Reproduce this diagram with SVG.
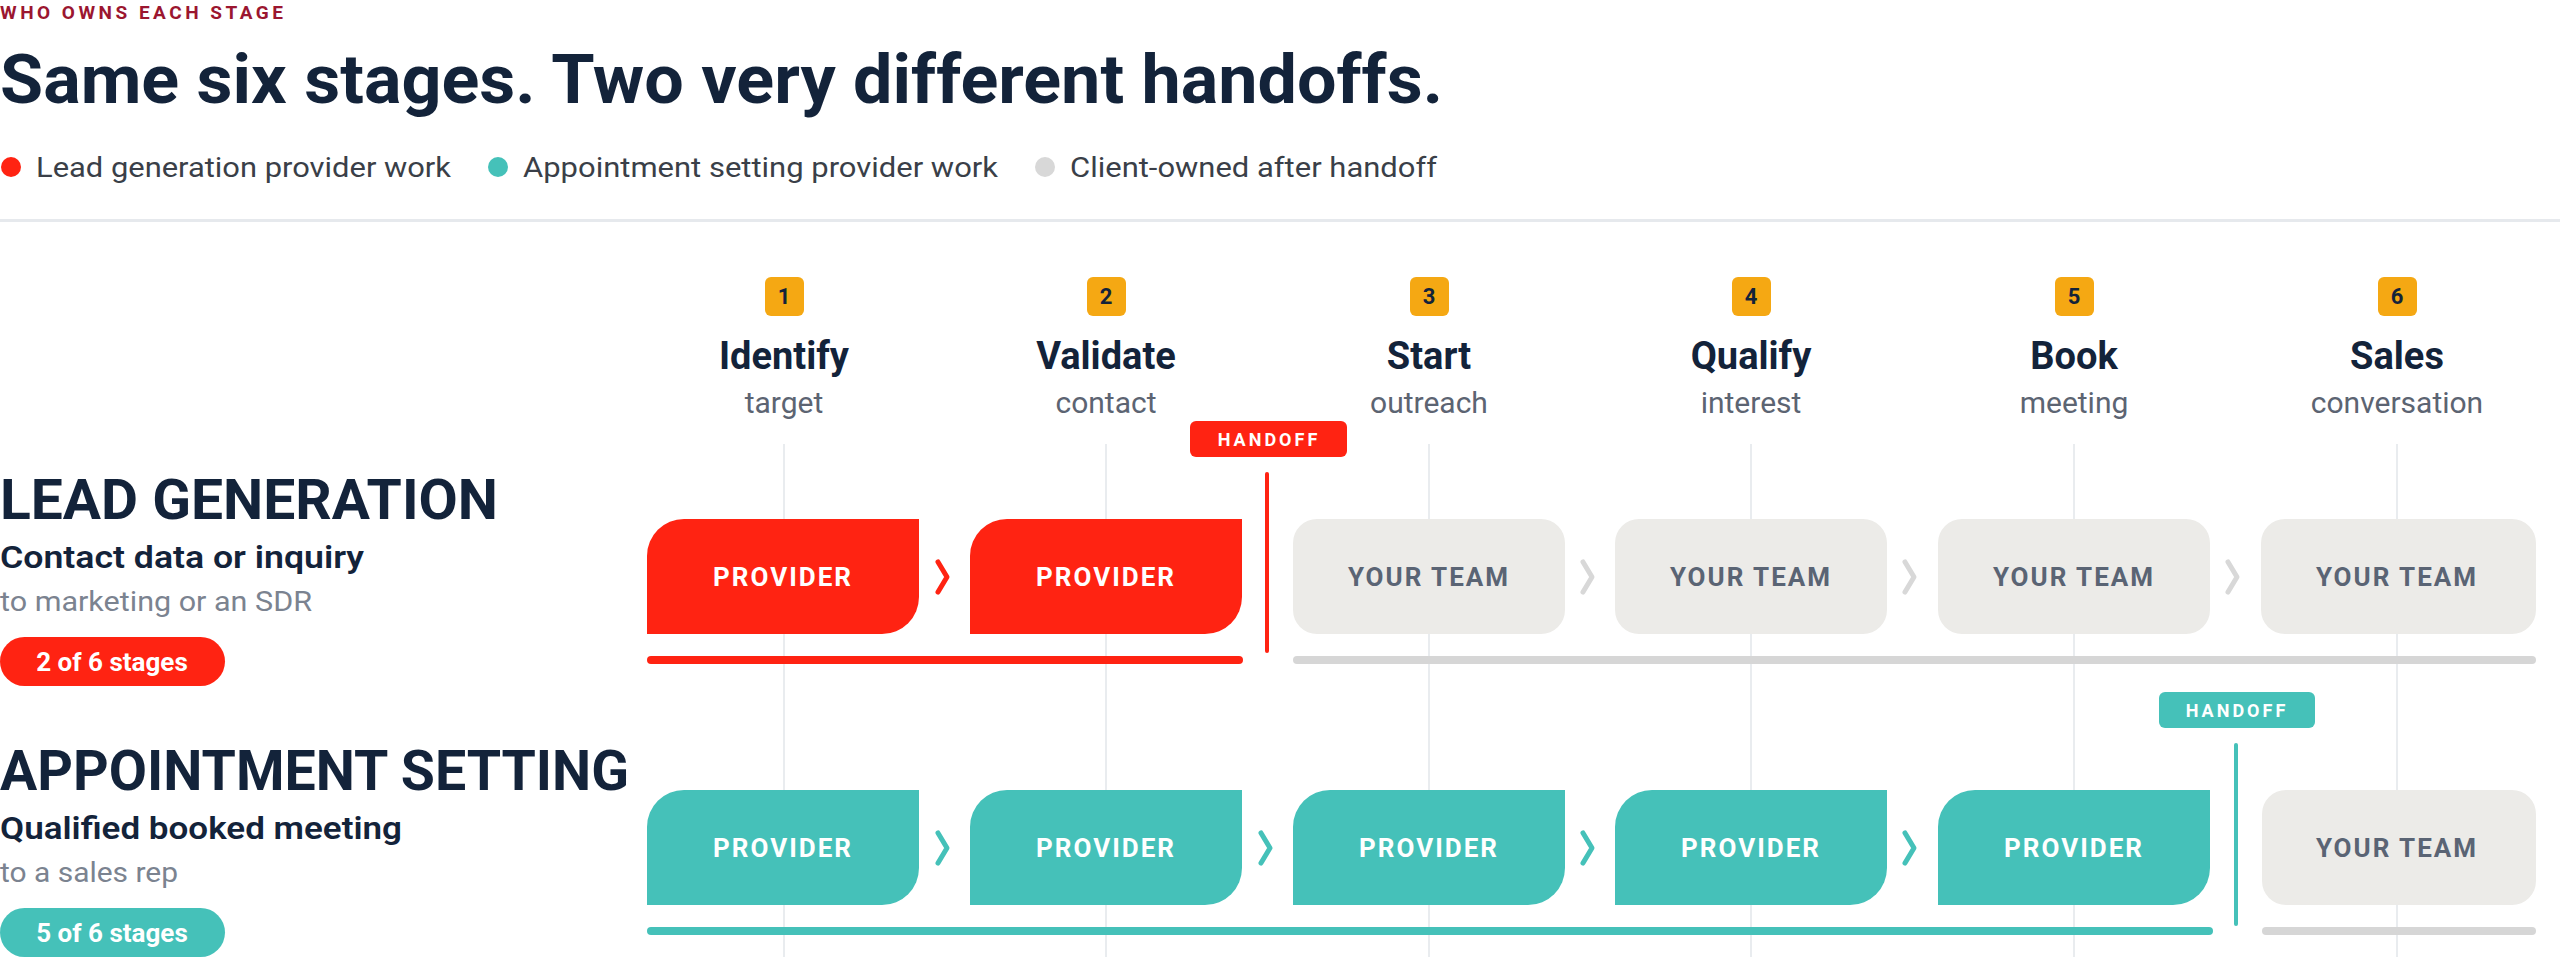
<svg xmlns="http://www.w3.org/2000/svg" width="2560" height="957" viewBox="0 0 2560 957">
<style>
text{font-family:Roboto,"Liberation Sans",sans-serif}
.navy{fill:#13233a}
.b{font-weight:700}
.st{font-size:38px;font-weight:700;fill:#13233a;text-anchor:middle}
.ss{font-size:30px;fill:#5c6472;text-anchor:middle}
.num{font-size:22px;font-weight:700;fill:#13233a;text-anchor:middle}
.badge{fill:#f5a813}
.grid{stroke:#e9ecef;stroke-width:2}
.red{fill:#ff2312}.teal{fill:#45c1b9}.gbox{fill:#ecebe8}
.bt{font-size:26px;font-weight:700;text-anchor:middle;letter-spacing:2px}
.w{fill:#fff}.gt{fill:#5a6474}
.chev{fill:none;stroke-width:5;stroke-linecap:round;stroke-linejoin:round}
.bar{stroke-width:8;stroke-linecap:round}
.ho{font-size:18px;font-weight:700;fill:#fff;text-anchor:middle;letter-spacing:3px}
.leg{font-size:28px;fill:#3a3f48}
</style>
<rect width="2560" height="957" fill="#fff"/>
<text x="0" y="19" font-size="19" class="b" fill="#9b1630" letter-spacing="3.5">WHO OWNS EACH STAGE</text>
<text x="0" y="103" font-size="68" class="b navy" textLength="1443" lengthAdjust="spacingAndGlyphs">Same six stages. Two very different handoffs.</text>
<g id="legend">
<circle cx="11" cy="167" r="10" fill="#ff2312"/><text x="36" y="177" class="leg" textLength="415" lengthAdjust="spacingAndGlyphs">Lead generation provider work</text>
<circle cx="498" cy="167" r="10" fill="#45c1b9"/><text x="523" y="177" class="leg" textLength="475" lengthAdjust="spacingAndGlyphs">Appointment setting provider work</text>
<circle cx="1045" cy="167" r="10" fill="#d8d8d8"/><text x="1070" y="177" class="leg" textLength="367" lengthAdjust="spacingAndGlyphs">Client-owned after handoff</text>
</g>
<rect x="0" y="219" width="2560" height="3" fill="#e6e9ed"/>
<g id="grid">
<line class="grid" x1="784" y1="444" x2="784" y2="957"/><line class="grid" x1="1106" y1="444" x2="1106" y2="957"/><line class="grid" x1="1429" y1="444" x2="1429" y2="957"/><line class="grid" x1="1751" y1="444" x2="1751" y2="957"/><line class="grid" x1="2074" y1="444" x2="2074" y2="957"/><line class="grid" x1="2397" y1="444" x2="2397" y2="957"/>
</g>
<g id="stages">
<g id="s1"><rect class="badge" x="765" y="277" width="39" height="39" rx="6"/><text class="num" x="784" y="304">1</text><text class="st" x="784" y="369">Identify</text><text class="ss" x="784" y="413">target</text></g>
<g id="s2"><rect class="badge" x="1087" y="277" width="39" height="39" rx="6"/><text class="num" x="1106" y="304">2</text><text class="st" x="1106" y="369">Validate</text><text class="ss" x="1106" y="413">contact</text></g>
<g id="s3"><rect class="badge" x="1410" y="277" width="39" height="39" rx="6"/><text class="num" x="1429" y="304">3</text><text class="st" x="1429" y="369">Start</text><text class="ss" x="1429" y="413">outreach</text></g>
<g id="s4"><rect class="badge" x="1732" y="277" width="39" height="39" rx="6"/><text class="num" x="1751" y="304">4</text><text class="st" x="1751" y="369">Qualify</text><text class="ss" x="1751" y="413">interest</text></g>
<g id="s5"><rect class="badge" x="2055" y="277" width="39" height="39" rx="6"/><text class="num" x="2074" y="304">5</text><text class="st" x="2074" y="369">Book</text><text class="ss" x="2074" y="413">meeting</text></g>
<g id="s6"><rect class="badge" x="2378" y="277" width="39" height="39" rx="6"/><text class="num" x="2397" y="304">6</text><text class="st" x="2397" y="369">Sales</text><text class="ss" x="2397" y="413">conversation</text></g>
</g>
<g id="lead-label">
<text x="0" y="519" font-size="56" class="b navy" textLength="498" lengthAdjust="spacingAndGlyphs">LEAD GENERATION</text>
<text x="0" y="568" font-size="32" font-weight="600" class="navy" textLength="364" lengthAdjust="spacingAndGlyphs">Contact data or inquiry</text>
<text x="0" y="611" font-size="28" fill="#7b8390" textLength="312" lengthAdjust="spacingAndGlyphs">to marketing or an SDR</text>
<rect x="0" y="637" width="225" height="49" rx="24.5" fill="#ff2312"/>
<text x="112" y="671" font-size="26" class="b" fill="#fff" text-anchor="middle">2 of 6 stages</text>
</g>
<g id="appt-label">
<text x="0" y="790" font-size="56" class="b navy" textLength="629" lengthAdjust="spacingAndGlyphs">APPOINTMENT SETTING</text>
<text x="0" y="839" font-size="32" font-weight="600" class="navy" textLength="402" lengthAdjust="spacingAndGlyphs">Qualified booked meeting</text>
<text x="0" y="882" font-size="28" fill="#7b8390" textLength="178" lengthAdjust="spacingAndGlyphs">to a sales rep</text>
<rect x="0" y="908" width="225" height="49" rx="24.5" fill="#45c1b9"/>
<text x="112" y="942" font-size="26" class="b" fill="#fff" text-anchor="middle">5 of 6 stages</text>
</g>
<g id="lead-row">
<g id="l1"><path class="red" d="M647 634V556A37 37 0 0 1 684 519H919V597A37 37 0 0 1 882 634Z"/><text class="bt w" x="783" y="586">PROVIDER</text></g>
<g id="l2"><path class="red" d="M970 634V556A37 37 0 0 1 1007 519H1242V597A37 37 0 0 1 1205 634Z"/><text class="bt w" x="1106" y="586">PROVIDER</text></g>
<g id="l3"><rect class="gbox" x="1293" y="519" width="272" height="115" rx="24"/><text class="bt gt" x="1429" y="586">YOUR TEAM</text></g>
<g id="l4"><rect class="gbox" x="1615" y="519" width="272" height="115" rx="24"/><text class="bt gt" x="1751" y="586">YOUR TEAM</text></g>
<g id="l5"><rect class="gbox" x="1938" y="519" width="272" height="115" rx="24"/><text class="bt gt" x="2074" y="586">YOUR TEAM</text></g>
<g id="l6"><rect class="gbox" x="2261" y="519" width="275" height="115" rx="24"/><text class="bt gt" x="2397" y="586">YOUR TEAM</text></g>
<g id="lead-handoff"><rect x="1190" y="421" width="157" height="36" rx="6" fill="#ff2312"/><text class="ho" x="1269" y="446">HANDOFF</text></g>
</g>
<g id="appt-row">
<g id="a1"><path class="teal" d="M647 905V827A37 37 0 0 1 684 790H919V868A37 37 0 0 1 882 905Z"/><text class="bt w" x="783" y="857">PROVIDER</text></g>
<g id="a2"><path class="teal" d="M970 905V827A37 37 0 0 1 1007 790H1242V868A37 37 0 0 1 1205 905Z"/><text class="bt w" x="1106" y="857">PROVIDER</text></g>
<g id="a3"><path class="teal" d="M1293 905V827A37 37 0 0 1 1330 790H1565V868A37 37 0 0 1 1528 905Z"/><text class="bt w" x="1429" y="857">PROVIDER</text></g>
<g id="a4"><path class="teal" d="M1615 905V827A37 37 0 0 1 1652 790H1887V868A37 37 0 0 1 1850 905Z"/><text class="bt w" x="1751" y="857">PROVIDER</text></g>
<g id="a5"><path class="teal" d="M1938 905V827A37 37 0 0 1 1975 790H2210V868A37 37 0 0 1 2173 905Z"/><text class="bt w" x="2074" y="857">PROVIDER</text></g>
<g id="a6"><rect class="gbox" x="2262" y="790" width="274" height="115" rx="24"/><text class="bt gt" x="2397" y="857">YOUR TEAM</text></g>
<g id="appt-handoff"><rect x="2159" y="692" width="156" height="36" rx="6" fill="#45c1b9"/><text class="ho" x="2237" y="717">HANDOFF</text></g>
</g>
<g id="connectors">
<path class="chev" stroke="#ff2312" d="M938 562L947 577L938 592"/>
<path class="chev" stroke="#d8d8d8" d="M1583 562L1592 577L1583 592"/>
<path class="chev" stroke="#d8d8d8" d="M1905 562L1914 577L1905 592"/>
<path class="chev" stroke="#d8d8d8" d="M2228 562L2237 577L2228 592"/>
<path class="chev" stroke="#45c1b9" d="M938 833L947 848L938 863"/>
<path class="chev" stroke="#45c1b9" d="M1261 833L1270 848L1261 863"/>
<path class="chev" stroke="#45c1b9" d="M1583 833L1592 848L1583 863"/>
<path class="chev" stroke="#45c1b9" d="M1905 833L1914 848L1905 863"/>
<line x1="1267" y1="474" x2="1267" y2="651" stroke="#ff2312" stroke-width="4" stroke-linecap="round"/>
<line x1="2236" y1="745" x2="2236" y2="924" stroke="#45c1b9" stroke-width="4" stroke-linecap="round"/>
<line class="bar" stroke="#ff2312" x1="651" y1="660" x2="1239" y2="660"/>
<line class="bar" stroke="#d6d6d6" x1="1297" y1="660" x2="2532" y2="660"/>
<line class="bar" stroke="#45c1b9" x1="651" y1="931" x2="2209" y2="931"/>
<line class="bar" stroke="#d6d6d6" x1="2266" y1="931" x2="2532" y2="931"/>
</g>
</svg>
